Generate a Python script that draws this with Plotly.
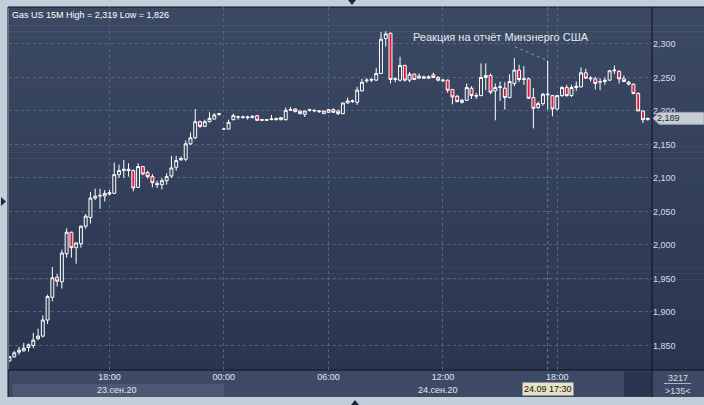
import plotly.graph_objects as go

# ---------------- data (15-minute candles, Gas US) ----------------
opens = [1.827, 1.833, 1.840, 1.842, 1.847, 1.850, 1.860, 1.864, 1.888, 1.922,
         1.952, 1.945, 1.987, 2.019, 1.996, 2.002, 2.028, 2.041, 2.070, 2.073,
         2.073, 2.076, 2.077, 2.105, 2.111, 2.113, 2.111, 2.086, 2.117, 2.108,
         2.102, 2.092, 2.090, 2.096, 2.103, 2.116, 2.127, 2.128, 2.151, 2.160,
         2.184, 2.177, 2.184, 2.188, 2.195, 2.173, 2.173, 2.187, 2.191, 2.190,
         2.190, 2.190, 2.193, 2.186, 2.186, 2.187, 2.187, 2.190, 2.187, 2.201,
         2.203, 2.200, 2.195, 2.201, 2.200, 2.199, 2.196, 2.198, 2.202, 2.200,
         2.196, 2.212, 2.214, 2.213, 2.230, 2.245, 2.246, 2.246, 2.256, 2.308,
         2.316, 2.247, 2.246, 2.268, 2.246, 2.255, 2.249, 2.251, 2.249, 2.254,
         2.250, 2.245, 2.246, 2.232, 2.222, 2.213, 2.216, 2.234, 2.222, 2.223,
         2.250, 2.253, 2.230, 2.235, 2.234, 2.220, 2.241, 2.261, 2.247, 2.248,
         2.220, 2.205, 2.211, 2.224, 2.223, 2.203, 2.223, 2.235, 2.223, 2.235,
         2.236, 2.257, 2.248, 2.248, 2.243, 2.244, 2.246, 2.260, 2.259, 2.248,
         2.243, 2.240, 2.226, 2.200, 2.187]
highs = [1.834, 1.842, 1.848, 1.854, 1.853, 1.869, 1.875, 1.895, 1.926, 1.967,
         1.957, 1.993, 2.025, 2.020, 2.004, 2.029, 2.046, 2.079, 2.084, 2.084,
         2.082, 2.082, 2.123, 2.120, 2.127, 2.122, 2.113, 2.122, 2.118, 2.111,
         2.106, 2.096, 2.100, 2.107, 2.133, 2.133, 2.132, 2.156, 2.168, 2.203,
         2.186, 2.187, 2.198, 2.197, 2.197, 2.173, 2.187, 2.196, 2.193, 2.193,
         2.193, 2.194, 2.194, 2.188, 2.188, 2.194, 2.189, 2.191, 2.205, 2.206,
         2.204, 2.201, 2.200, 2.203, 2.202, 2.201, 2.200, 2.203, 2.204, 2.202,
         2.212, 2.220, 2.217, 2.236, 2.248, 2.249, 2.249, 2.264, 2.318, 2.319,
         2.317, 2.250, 2.281, 2.269, 2.258, 2.256, 2.256, 2.253, 2.253, 2.257,
         2.252, 2.248, 2.247, 2.233, 2.224, 2.218, 2.241, 2.237, 2.227, 2.271,
         2.271, 2.256, 2.241, 2.244, 2.243, 2.255, 2.279, 2.269, 2.267, 2.250,
         2.234, 2.214, 2.227, 2.275, 2.224, 2.224, 2.237, 2.239, 2.239, 2.244,
         2.265, 2.263, 2.252, 2.251, 2.249, 2.250, 2.261, 2.268, 2.261, 2.253,
         2.245, 2.241, 2.228, 2.201, 2.190]
lows = [1.826, 1.832, 1.836, 1.841, 1.841, 1.846, 1.858, 1.862, 1.882, 1.916,
        1.938, 1.935, 1.981, 1.981, 1.972, 1.996, 2.024, 2.032, 2.067, 2.054,
        2.065, 2.074, 2.076, 2.100, 2.100, 2.102, 2.080, 2.085, 2.104, 2.099,
        2.086, 2.085, 2.083, 2.090, 2.100, 2.111, 2.126, 2.125, 2.149, 2.158,
        2.175, 2.176, 2.183, 2.187, 2.193, 2.173, 2.173, 2.186, 2.187, 2.189,
        2.187, 2.189, 2.185, 2.185, 2.185, 2.187, 2.186, 2.186, 2.186, 2.200,
        2.198, 2.195, 2.191, 2.199, 2.198, 2.197, 2.196, 2.197, 2.197, 2.194,
        2.195, 2.211, 2.212, 2.209, 2.229, 2.242, 2.243, 2.245, 2.255, 2.296,
        2.241, 2.243, 2.244, 2.244, 2.243, 2.246, 2.248, 2.248, 2.248, 2.249,
        2.244, 2.243, 2.227, 2.210, 2.213, 2.211, 2.215, 2.218, 2.218, 2.222,
        2.231, 2.225, 2.186, 2.215, 2.202, 2.219, 2.237, 2.243, 2.239, 2.218,
        2.174, 2.203, 2.208, 2.202, 2.192, 2.201, 2.221, 2.221, 2.221, 2.230,
        2.235, 2.248, 2.244, 2.232, 2.231, 2.239, 2.245, 2.255, 2.241, 2.243,
        2.238, 2.225, 2.200, 2.182, 2.186]
closes = [1.833, 1.839, 1.843, 1.846, 1.851, 1.858, 1.864, 1.888, 1.923, 1.951,
          1.946, 1.988, 2.019, 1.996, 2.003, 2.028, 2.043, 2.070, 2.073, 2.074,
          2.077, 2.078, 2.105, 2.111, 2.113, 2.111, 2.085, 2.117, 2.106, 2.102,
          2.093, 2.090, 2.096, 2.102, 2.115, 2.126, 2.129, 2.151, 2.160, 2.184,
          2.177, 2.184, 2.189, 2.194, 2.196, 2.173, 2.183, 2.193, 2.191, 2.191,
          2.191, 2.192, 2.186, 2.187, 2.187, 2.188, 2.189, 2.187, 2.201, 2.202,
          2.199, 2.196, 2.200, 2.202, 2.201, 2.200, 2.200, 2.202, 2.198, 2.196,
          2.212, 2.215, 2.215, 2.231, 2.243, 2.246, 2.247, 2.256, 2.307, 2.315,
          2.247, 2.248, 2.268, 2.246, 2.255, 2.247, 2.252, 2.249, 2.251, 2.250,
          2.246, 2.246, 2.231, 2.221, 2.214, 2.216, 2.235, 2.223, 2.223, 2.250,
          2.253, 2.228, 2.235, 2.236, 2.220, 2.244, 2.261, 2.247, 2.248, 2.219,
          2.204, 2.211, 2.225, 2.225, 2.203, 2.223, 2.235, 2.223, 2.235, 2.237,
          2.257, 2.249, 2.249, 2.241, 2.244, 2.246, 2.260, 2.261, 2.248, 2.244,
          2.240, 2.226, 2.200, 2.187, 2.189]
bar_index = list(range(len(opens)))

y_ticks = [1.85, 1.90, 1.95, 2.00, 2.05, 2.10, 2.15, 2.20, 2.25, 2.30]
x_tick_index = [21, 45, 67, 91, 115]
x_tick_labels = ["18:00", "00:00", "06:00", "12:00", "18:00"]
day_labels = ["23.сен.20", "24.сен.20"]
day_start_index = [0, 45]
cursor_index = 113
cursor_label = "24.09 17:30"
title_text = "Gas US 15M High = 2,319 Low = 1,826"
note_text = "Реакция на отчёт Минэнерго США"
bars_total = "3217"
bars_visible = ">135<"

# ---------------- geometry helpers ----------------
W, H = 704, 405
ML, MR, MT, MB = 9, 52, 7, 35
PW, PH = W - ML - MR, H - MT - MB
X_MIN, X_MAX = -0.1, len(opens) - 0.1
Y_MIN, Y_MAX = 1.8134, 2.3552
FONT = "Liberation Sans, Arial, sans-serif"


def xp(px):
    return (px - ML) / PW


def yp(py):
    return (H - MB - py) / PH


def idx_px(i):
    return ML + (i - X_MIN) / (X_MAX - X_MIN) * PW


def price_py(p):
    return MT + (Y_MAX - p) / (Y_MAX - Y_MIN) * PH


shapes = []
# vertical gradient background of plot + right axis panel
top_c, bot_c = (60, 73, 100), (42, 54, 80)
N = 60
for k in range(N):
    t = (k + 0.5) / N
    c = tuple(round(top_c[j] + (bot_c[j] - top_c[j]) * t) for j in range(3))
    y0 = MT + PH * k / N
    y1 = MT + PH * (k + 1) / N + 0.6
    shapes.append(dict(type="rect", xref="paper", yref="paper", layer="below",
                       x0=xp(ML), x1=xp(W), y0=yp(y1), y1=yp(y0),
                       line=dict(width=0), fillcolor="rgb(%d,%d,%d)" % c))
# bottom time panel
shapes.append(dict(type="rect", xref="paper", yref="paper", layer="below",
                   x0=xp(8), x1=xp(W), y0=yp(397), y1=yp(370),
                   line=dict(width=0), fillcolor="#3d4a66"))
# day band for first day
shapes.append(dict(type="rect", xref="paper", yref="paper", layer="below",
                   x0=xp(idx_px(day_start_index[0]) + 3), x1=xp(idx_px(day_start_index[1])),
                   y0=yp(397), y1=yp(384), line=dict(width=0), fillcolor="#4b5975"))
# dark scroll box
shapes.append(dict(type="rect", xref="paper", yref="paper", layer="below",
                   x0=xp(624), x1=xp(651), y0=yp(396.5), y1=yp(371.5),
                   line=dict(width=0), fillcolor="#29354e"))
# frame lines
for (x0, y0, x1, y1) in [(652, MT, 652, 397), (8, 370, W, 370), (8, MT, W, MT), (8, MT, 8, 397)]:
    shapes.append(dict(type="line", xref="paper", yref="paper", layer="below",
                       x0=xp(x0), x1=xp(x1), y0=yp(y0), y1=yp(y1),
                       line=dict(color="#0c1018", width=1)))
# small separator line in the bottom-right box
shapes.append(dict(type="line", xref="paper", yref="paper", layer="below",
                   x0=xp(664), x1=xp(691), y0=yp(383.5), y1=yp(383.5),
                   line=dict(color="#aab4c4", width=1)))
# cursor line (dashed, full height)
cx = idx_px(cursor_index)
shapes.append(dict(type="line", xref="paper", yref="paper", layer="below",
                   x0=xp(cx), x1=xp(cx), y0=yp(370), y1=yp(MT),
                   line=dict(color="#6b7a96", width=1, dash="3px,3px")))
# dotted leader from note to cursor candle high
hy = price_py(highs[cursor_index])
shapes.append(dict(type="line", xref="paper", yref="paper", layer="above",
                   x0=xp(cx - 33), x1=xp(cx), y0=yp(hy - 14), y1=yp(hy),
                   line=dict(color="#8a98b2", width=1, dash="dot")))
# last price tag
ly = price_py(closes[-1])
tag = "M {a},{b} L {c},{d} L {e},{d} L {e},{f} L {c},{f} Z".format(
    a=xp(653), b=yp(ly), c=xp(659), d=yp(ly - 6), e=xp(W), f=yp(ly + 6))
shapes.append(dict(type="path", xref="paper", yref="paper", layer="above", path=tag,
                   fillcolor="#c9ced6", line=dict(color="#9aa3b0", width=1)))
# frame triangles
tri_col = "#1e2838"
for path in [
    "M {},{} L {},{} L {},{} Z".format(xp(348), yp(0), xp(356), yp(0), xp(352), yp(5)),
    "M {},{} L {},{} L {},{} Z".format(xp(351), yp(405), xp(359), yp(405), xp(355), yp(400)),
    "M {},{} L {},{} L {},{} Z".format(xp(1), yp(197), xp(1), yp(206), xp(6), yp(201.5)),
]:
    shapes.append(dict(type="path", xref="paper", yref="paper", layer="above", path=path,
                       fillcolor=tri_col, line=dict(width=0)))

annotations = [
    dict(text=title_text, xref="paper", yref="paper", x=xp(10), y=yp(15),
         xanchor="left", yanchor="middle", showarrow=False,
         font=dict(family=FONT, size=9, color="#ffffff")),
    dict(text=note_text, xref="paper", yref="paper", x=xp(cx + 43), y=yp(37),
         xanchor="right", yanchor="middle", showarrow=False,
         font=dict(family=FONT, size=11, color="#e6eaf0")),
    dict(text=cursor_label, xref="paper", yref="paper", x=xp(cx), y=yp(388.5),
         xanchor="center", yanchor="middle", showarrow=False, bgcolor="#e6e2c2",
         borderpad=1, font=dict(family=FONT, size=9, color="#111111")),
    dict(text="{:.3f}".format(closes[-1]).replace(".", ","), xref="paper", yref="paper",
         x=xp(655), y=yp(ly), xanchor="left", yanchor="middle", showarrow=False,
         font=dict(family=FONT, size=9, color="#1c2638")),
    dict(text=bars_total, xref="paper", yref="paper", x=xp(678), y=yp(377.5),
         xanchor="center", yanchor="middle", showarrow=False,
         font=dict(family=FONT, size=9, color="#d8dee8")),
    dict(text=bars_visible, xref="paper", yref="paper", x=xp(678), y=yp(390.5),
         xanchor="center", yanchor="middle", showarrow=False,
         font=dict(family=FONT, size=9, color="#d8dee8")),
]
day_edges = day_start_index + [X_MAX]
for k, lab in enumerate(day_labels):
    mid = (idx_px(day_edges[k]) + idx_px(day_edges[k + 1])) / 2
    annotations.append(dict(text=lab, xref="paper", yref="paper", x=xp(mid), y=yp(389.5),
                            xanchor="center", yanchor="middle", showarrow=False,
                            font=dict(family=FONT, size=9, color="#e2e7ef")))

hollow_fill = "rgb(55,67,93)"
fig = go.Figure(go.Candlestick(
    x=bar_index, open=opens, high=highs, low=lows, close=closes,
    increasing=dict(line=dict(color="#ffffff", width=1), fillcolor=hollow_fill),
    decreasing=dict(line=dict(color="#ffffff", width=1), fillcolor="#e0163c"),
    whiskerwidth=0, hoverinfo="skip",
))

grid_col = "#56657f"
fig.update_layout(
    width=W, height=H,
    margin=dict(l=ML, r=MR, t=MT, b=MB),
    paper_bgcolor="#c3cedb",
    plot_bgcolor="rgba(0,0,0,0)",
    separators=", ",
    boxgap=0.12,
    showlegend=False,
    font=dict(family=FONT, size=9, color="#d8dee8"),
    shapes=shapes,
    annotations=annotations,
    xaxis=dict(range=[X_MIN, X_MAX], tickmode="array", tickvals=x_tick_index,
               ticktext=x_tick_labels, ticks="", showline=False, zeroline=False,
               showgrid=True, gridcolor=grid_col, gridwidth=1, griddash="3px,3px",
               tickfont=dict(family=FONT, size=9, color="#e2e7ef"),
               rangeslider=dict(visible=False), fixedrange=True, ticklabelstandoff=0),
    yaxis=dict(range=[Y_MIN, Y_MAX], side="right", tickmode="array", tickvals=y_ticks,
               tickformat=".3f", ticks="", showline=False, zeroline=False,
               showgrid=True, gridcolor=grid_col, gridwidth=1, griddash="3px,3px",
               tickfont=dict(family=FONT, size=9, color="#d8dee8"), fixedrange=True),
)

fig.write_html(
    "out.html",
    config={"displayModeBar": False, "staticPlot": True},
    post_script="document.body.style.margin='0';document.body.style.background='#c3cedb';",
)
